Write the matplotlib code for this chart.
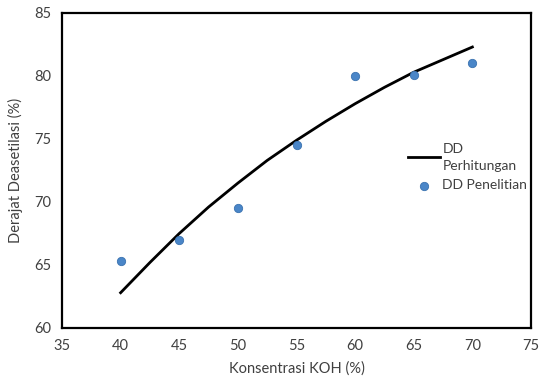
import matplotlib.pyplot as plt
import numpy as np

# DD Perhitungan (line)
calc_x = [40, 42.5, 45, 47.5, 50, 52.5, 55, 57.5, 60, 62.5, 65, 67.5, 70]
calc_y = [62.8, 65.2, 67.5, 69.6, 71.5, 73.3, 74.9, 76.4, 77.8, 79.1, 80.3, 81.3, 82.3]

# DD Penelitian (points)
obs_x = [40, 45, 50, 55, 60, 65, 70]
obs_y = [65.3, 67.0, 69.5, 74.5, 80.0, 80.1, 81.0]

x_ticks = [35, 40, 45, 50, 55, 60, 65, 70, 75]
y_ticks = [60, 65, 70, 75, 80, 85]

txt = '#404040'
plt.rcParams['font.family'] = ['Lato', 'DejaVu Sans']

fig = plt.figure(figsize=(5.39, 3.78), dpi=100)
ax = fig.add_axes([62 / 539, 1 - 328 / 378, 469 / 539, 315 / 378])

ax.plot(calc_x, calc_y, color='black', lw=2, label='DD\nPerhitungan', zorder=2)
ax.scatter(obs_x, obs_y, s=36, color='#4a86c8', edgecolors='#3a72b0', linewidths=0.6,
           label='DD Penelitian', zorder=3)

ax.set_xlim(35, 75)
ax.set_ylim(60, 85)
ax.set_xticks(x_ticks)
ax.set_yticks(y_ticks)
ax.tick_params(length=0, labelsize=10.5, labelcolor=txt, pad=8)
for s in ax.spines.values():
    s.set_linewidth(1.6)
    s.set_color('black')

ax.set_xlabel('Konsentrasi KOH (%)', fontsize=10.5, color=txt, labelpad=6)
ax.set_ylabel('Derajat Deasetilasi (%)', fontsize=10.5, color=txt, labelpad=8)

leg = ax.legend(loc='upper left', bbox_to_anchor=(0.737, 0.587), frameon=False,
                fontsize=10, labelcolor=txt, handlelength=2.3, handletextpad=0.2,
                labelspacing=0.55, borderpad=0, borderaxespad=0)
for t in leg.get_texts():
    t.set_linespacing(1.45)

fig.savefig('out.png', dpi=100)
